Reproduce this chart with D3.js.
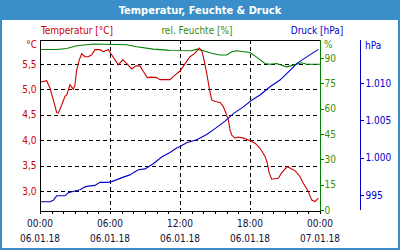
<!DOCTYPE html>
<html>
<head>
<meta charset="utf-8">
<script src="https://cdn.jsdelivr.net/npm/d3@7"></script>
<style>
  html, body { margin: 0; padding: 0; background: #fff; }
  svg { display: block; font-family: "DejaVu Sans Condensed", "DejaVu Sans", sans-serif; }
  .grid line { stroke: #000; stroke-dasharray: 4,3; shape-rendering: crispEdges; }
</style>
</head>
<body>
<svg id="chart" width="400" height="250"></svg>
<script>
/* ---------- data ---------- */

const xTickHours  = [0, 6, 12, 18, 24];
const xTimeLabels = ["00:00", "06:00", "12:00", "18:00", "00:00"];
const xDateLabels = ["06.01.18", "06.01.18", "06.01.18", "06.01.18", "07.01.18"];

const tempHours = [0, 0.57, 0.86, 1.14, 1.43, 1.57, 1.86, 2.14, 2.29, 2.57, 2.86, 3.0, 3.14, 3.37,
    3.57, 3.86, 4.14, 4.43, 4.71, 5.14, 5.43, 5.86, 6.14, 6.71, 7.09, 7.43, 7.86, 8.23, 8.57,
    8.86, 9.2, 9.57, 10.0, 10.29, 11.14, 11.57, 12.0, 12.57, 12.86, 13.29, 13.65, 13.86, 14.0,
    14.29, 14.51, 14.72, 15.0, 15.43, 15.71, 15.94, 16.14, 16.29, 16.43, 16.71, 17.0, 17.43,
    18.0, 18.43, 18.86, 19.29, 19.48, 19.65, 19.86, 20.43, 20.72, 21.2, 21.57, 21.86, 22.29,
    22.57, 23.0, 23.29, 23.57, 23.86];
const tempValues = [5.14, 5.17, 5.02, 4.79, 4.54, 4.53, 4.69, 4.86, 4.89, 5.09, 5.0, 5.09, 5.38, 5.58,
    5.7, 5.64, 5.64, 5.68, 5.78, 5.78, 5.74, 5.78, 5.68, 5.48, 5.58, 5.51, 5.4, 5.46, 5.46,
    5.35, 5.23, 5.24, 5.23, 5.19, 5.19, 5.28, 5.36, 5.55, 5.64, 5.71, 5.81, 5.76, 5.64,
    5.32, 5.02, 4.79, 4.76, 4.74, 4.66, 4.53, 4.4, 4.2, 4.1, 4.04, 4.06, 4.04,
    3.99, 3.94, 3.84, 3.68, 3.55, 3.35, 3.23, 3.25, 3.36, 3.48, 3.43, 3.4, 3.28,
    3.15, 2.99, 2.82, 2.79, 2.86];

const humHours  = [0, 1.43, 2.29, 3.14, 4.57, 7.43, 8.29, 9.71, 10.86, 11.14, 13.0, 13.43, 14.0,
    14.71, 15.43, 16.0, 16.43, 16.86, 18.0, 18.71, 19.29, 19.71, 20.29, 21.14, 21.71, 22.43,
    22.86, 24.0];
const humValues = [95.1, 95.1, 95.7, 97.3, 98.3, 97.9, 96.7, 95.3, 94.7, 94.5, 94.3, 95.3, 94.3,
    92.8, 91.8, 91.8, 93.7, 94.3, 93.3, 89.8, 86.8, 86.3, 86.8, 84.8, 85.8, 87.2,
    86.3, 86.3];

const pressHours  = [0, 0.86, 1.14, 1.43, 2.14, 2.43, 3.14, 3.43, 3.86, 4.14, 4.71, 5.14, 5.86,
    6.14, 7.14, 7.71, 8.0, 8.43, 9.0, 9.71, 10.43, 11.14, 11.71, 12.0, 12.57, 13.43, 14.29,
    15.0, 15.86, 16.57, 17.43, 18.14, 18.86, 19.71, 20.57, 21.43, 22.0, 22.86, 23.86];
const pressValues = [994.1, 994.1, 994.3, 994.9, 994.9, 995.3, 995.6, 995.7, 996.1, 996.2, 996.3,
    996.7, 996.7, 996.8, 997.4, 997.7, 998.0, 998.4, 998.5, 999.2, 1000.1, 1000.7, 1001.3,
    1001.5, 1002.0, 1002.4, 1003.1, 1003.9, 1004.9, 1005.9, 1006.8, 1007.7, 1008.4, 1009.5,
    1010.4, 1011.7, 1012.6, 1013.5, 1014.5];

const tempTicks  = [3.0, 3.5, 4.0, 4.5, 5.0, 5.5];
const humTicks   = [0, 15, 30, 45, 60, 75, 90];
const pressTicks = [995, 1000, 1005, 1010];

/* ---------- layout ---------- */

const W = 400, H = 250;
const plot = { left: 40, right: 320, top: 40, bottom: 210 };
const BLUE_FRAME = "#3a8fc8";
const C_TEMP = "#cc0000", C_HUM = "#008000", C_PRESS = "#0000cc";
const C_HUM_TEXT = "#3c8c00", C_X_TEXT = "#101038";
const FS = 10;

const de = d3.formatLocale({ decimal: ",", thousands: ".", grouping: [3], currency: ["", "€"] });
const fmtTemp = de.format(".1f");
const fmtPress = de.format(",d");

const svg = d3.select("#chart");

/* ---------- frame and title ---------- */

svg.append("rect").attr("x", 0).attr("y", 0).attr("width", W).attr("height", H)
    .attr("fill", BLUE_FRAME);
svg.append("rect").attr("x", 2).attr("y", 20).attr("width", W - 4).attr("height", H - 22)
    .attr("fill", "#fff");
svg.append("text").attr("x", W / 2).attr("y", 14).attr("text-anchor", "middle")
    .attr("font-size", 11).attr("font-weight", "bold").attr("fill", "#fff")
    .text("Temperatur, Feuchte & Druck");

/* ---------- legend row ---------- */

[["Temperatur [°C]", 77, C_TEMP], ["rel. Feuchte [%]", 197, C_HUM_TEXT], ["Druck [hPa]", 317, C_PRESS]]
    .forEach(([t, x, c]) => {
        svg.append("text").attr("x", x).attr("y", 34).attr("text-anchor", "middle")
            .attr("font-size", FS).attr("fill", c).text(t);
    });

/* ---------- scales ---------- */

const x = d3.scaleLinear().domain([0, 24]).range([plot.left, plot.right]);
const yTemp = d3.scaleLinear().domain([2.625, 5.97]).range([plot.bottom, plot.top]);
const yHum = d3.scaleLinear().domain([0, 100.7]).range([plot.bottom, plot.top]);
const yPress = d3.scaleLinear().domain([993, 1015.76]).range([plot.bottom, plot.top]);

/* ---------- grid ---------- */

const grid = svg.append("g").attr("class", "grid");
grid.selectAll("line.h").data(tempTicks).enter().append("line")
    .attr("x1", plot.left).attr("x2", plot.right)
    .attr("y1", d => Math.round(yTemp(d)) + 0.5).attr("y2", d => Math.round(yTemp(d)) + 0.5);
grid.selectAll("line.v").data([6, 12, 18]).enter().append("line")
    .attr("y1", plot.top).attr("y2", plot.bottom)
    .attr("x1", d => Math.round(x(d)) + 0.5).attr("x2", d => Math.round(x(d)) + 0.5);

svg.append("line").attr("x1", plot.left).attr("x2", plot.right)
    .attr("y1", plot.top + 0.5).attr("y2", plot.top + 0.5)
    .attr("stroke", "#000").attr("shape-rendering", "crispEdges");

/* ---------- lines ---------- */

function drawLine(hours, values, y, color) {
    const line = d3.line().x((_, i) => x(hours[i])).y(v => y(v));
    svg.append("path").datum(values).attr("d", line)
        .attr("fill", "none").attr("stroke", color).attr("stroke-width", 1.1);
}
drawLine(humHours, humValues, yHum, C_HUM);
drawLine(pressHours, pressValues, yPress, C_PRESS);
drawLine(tempHours, tempValues, yTemp, C_TEMP);

/* ---------- axes ---------- */

function styleAxis(g, lineColor, textColor) {
    g.select(".domain").attr("stroke", lineColor).attr("shape-rendering", "crispEdges");
    g.selectAll(".tick line").attr("stroke", lineColor).attr("shape-rendering", "crispEdges");
    g.selectAll("text").attr("fill", textColor).attr("font-size", FS)
        .attr("font-family", "DejaVu Sans Condensed, DejaVu Sans, sans-serif");
}

// left temperature axis
const gLeft = svg.append("g").attr("transform", `translate(${plot.left + 0.5},0)`)
    .call(d3.axisLeft(yTemp).tickValues(tempTicks).tickFormat(fmtTemp).tickSize(0).tickPadding(4));
styleAxis(gLeft, "#000", C_TEMP);
gLeft.select(".domain").attr("d", `M0,${plot.top}V${plot.bottom + 3}`);
svg.append("text").attr("x", 37).attr("y", 48).attr("text-anchor", "end")
    .attr("font-size", FS).attr("fill", C_TEMP).text("°C");

// right humidity axis
const gHum = svg.append("g").attr("transform", `translate(${plot.right + 0.5},0)`)
    .call(d3.axisRight(yHum).tickValues(humTicks).tickSize(3).tickPadding(1).tickSizeOuter(0));
styleAxis(gHum, C_HUM, C_HUM_TEXT);
gHum.select(".domain").attr("d", `M0,${plot.top}V${plot.bottom + 3}`);
svg.append("text").attr("x", 324).attr("y", 48)
    .attr("font-size", FS).attr("fill", C_HUM_TEXT).text("%");

// pressure axis
const gPress = svg.append("g").attr("transform", "translate(360.5,0)")
    .call(d3.axisRight(yPress).tickValues(pressTicks).tickFormat(fmtPress).tickSize(3).tickPadding(2).tickSizeOuter(0));
styleAxis(gPress, C_PRESS, C_PRESS);
gPress.select(".domain").attr("d", `M0,${plot.top}V${plot.bottom}`);
svg.append("text").attr("x", 365).attr("y", 49)
    .attr("font-size", FS).attr("fill", C_PRESS).text("hPa");

// bottom time axis
const gX = svg.append("g").attr("transform", `translate(0,${plot.bottom + 0.5})`)
    .call(d3.axisBottom(x).tickValues(d3.range(0, 25)).tickSize(3).tickFormat("").tickSizeOuter(0));
styleAxis(gX, "#000", C_X_TEXT);

const xl = svg.append("g");
xl.selectAll("text.t").data(xTickHours).enter().append("text")
    .attr("x", d => x(d)).attr("y", 227).attr("text-anchor", "middle")
    .attr("font-size", FS).attr("fill", C_X_TEXT).text((_, i) => xTimeLabels[i]);
xl.selectAll("text.d").data(xTickHours).enter().append("text")
    .attr("x", d => x(d)).attr("y", 242).attr("text-anchor", "middle")
    .attr("font-size", FS).attr("fill", C_X_TEXT).text((_, i) => xDateLabels[i]);
</script>
</body>
</html>
